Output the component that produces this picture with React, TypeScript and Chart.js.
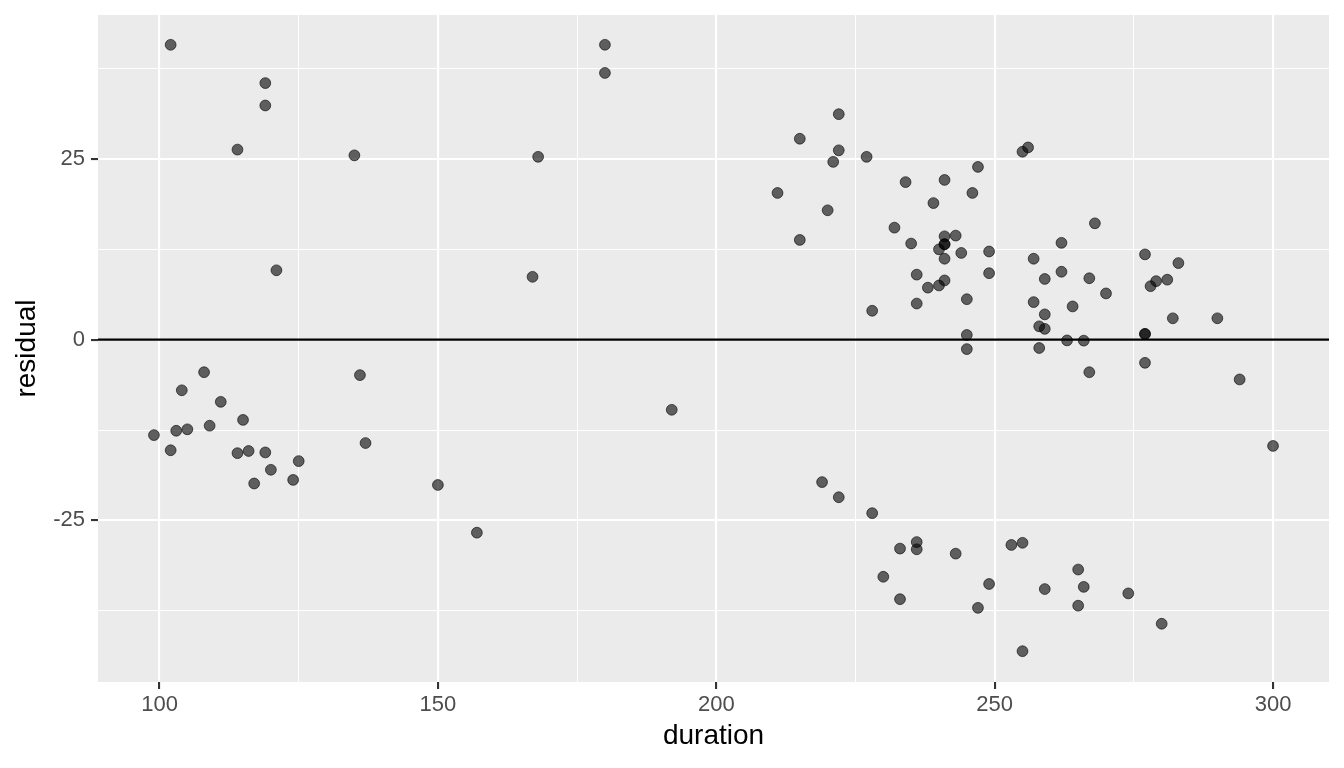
import React, { useEffect, useRef } from "react";
import { Chart, registerables } from "chart.js";

Chart.register(...registerables);

const durations = [
  99, 102, 102, 103, 104, 105, 108, 109, 111, 114, 114, 115, 116, 117, 119, 119, 119, 120, 121, 124, 125,
  135, 136, 137, 150, 157, 167, 168, 180, 180, 192,
  211, 215, 215, 219, 220, 221, 222, 222, 222, 227, 228, 228, 230, 232, 233, 233, 234, 235, 236, 236, 236, 236,
  238, 239, 240, 240, 241, 241, 241, 241, 241, 241, 243, 243, 244, 245, 245, 245, 246, 247, 247, 249, 249, 249,
  253, 255, 255, 255, 256, 257, 257, 258, 258, 259, 259, 259, 259, 262, 262, 263, 264, 265, 265, 266, 266, 267,
  267, 268, 270, 274, 277, 277, 277, 277, 278, 279, 280, 281, 282, 283, 290, 294, 300,
];

const residuals = [
  -13.2, -15.3, 40.8, -12.6, -7.0, -12.4, -4.5, -11.9, -8.6, -15.7, 26.3, -11.1, -15.4, -19.9, 35.5, 32.4, -15.6,
  -18.0, 9.6, -19.4, -16.8,
  25.5, -4.9, -14.3, -20.1, -26.7, 8.7, 25.3, 40.8, 36.9, -9.7,
  20.3, 27.8, 13.8, -19.7, 17.9, 24.6, 31.2, 26.2, -21.8, 25.3, 4.0, -24.0, -32.8, 15.5, -28.9, -35.9, 21.8, 13.3,
  9.0, 5.0, -28.0, -29.0,
  7.2, 18.9, 12.5, 7.5, 22.1, 14.3, 13.2, 13.2, 11.2, 8.2, 14.4, -29.6, 12.0, 5.6, 0.65, -1.3, 20.3, 23.9, -37.1,
  12.2, 9.2, -33.8,
  -28.4, 26.0, -28.1, -43.1, 26.6, 11.2, 5.2, 1.85, -1.15, 8.4, 3.5, 1.5, -34.5, 13.4, 9.4, -0.1, 4.6, -31.8, -36.8,
  -0.13, -34.2, 8.5,
  -4.5, 16.1, 6.4, -35.1, 11.8, 0.79, 0.79, -3.2, 7.4, 8.1, -39.3, 8.3, 2.96, 10.6, 2.96, -5.5, -14.7,
];

const xTicks = [100, 125, 150, 175, 200, 225, 250, 275, 300];
const xLabelled = [100, 150, 200, 250, 300];
const yTicks = [-37.5, -25, -12.5, 0, 12.5, 25, 37.5];
const yLabelled = [-25, 0, 25];
const hlineY = 0;

const X_MIN = 88.95;
const X_MAX = 310.05;
const Y_MIN = -47.36;
const Y_MAX = 44.92;

const FONT = "'Liberation Sans', Arial, Helvetica, sans-serif";

export default function App() {
  const ref = useRef<HTMLCanvasElement>(null);

  useEffect(() => {
    document.body.style.margin = "0";
    const canvas = ref.current;
    if (!canvas) return;

    const panelBg = {
      id: "panelBg",
      beforeDraw(chart: any) {
        const { ctx, chartArea: a } = chart;
        ctx.save();
        ctx.fillStyle = "#EBEBEB";
        ctx.fillRect(a.left, a.top, a.right - a.left, a.bottom - a.top);
        ctx.restore();
      },
    };

    const isXMajor = (v: number) => xLabelled.includes(v);
    const isYMajor = (v: number) => yLabelled.includes(v);

    const chart = new Chart(canvas, {
      type: "scatter",
      data: {
        datasets: [
          {
            type: "line",
            data: [
              { x: X_MIN, y: hlineY },
              { x: X_MAX, y: hlineY },
            ],
            borderColor: "#000000",
            borderWidth: 2.3,
            pointRadius: 0,
            order: 0,
          } as any,
          {
            data: durations.map((d, i) => ({ x: d, y: residuals[i] })),
            backgroundColor: "rgba(0,0,0,0.6)",
            borderColor: "rgba(0,0,0,0.6)",
            borderWidth: 1,
            pointRadius: 5.4,
            pointHoverRadius: 5.4,
            order: 1,
          },
        ],
      },
      options: {
        animation: false,
        responsive: false,
        layout: { padding: { left: 0, top: 15, right: 15, bottom: 0 } },
        plugins: {
          legend: { display: false },
          tooltip: { enabled: false },
        },
        scales: {
          x: {
            type: "linear",
            min: X_MIN,
            max: X_MAX,
            afterBuildTicks: (s: any) => {
              s.ticks = xTicks.map((v) => ({ value: v }));
            },
            afterFit: (s: any) => {
              s.height = 86;
              s.paddingLeft = 0;
              s.paddingRight = 0;
              s.paddingTop = 0;
              s.paddingBottom = 0;
            },
            border: { display: false },
            grid: {
              color: "#FFFFFF",
              lineWidth: (c: any) => (isXMajor(c.tick?.value) ? 2.1 : 1.05),
              tickColor: (c: any) => (isXMajor(c.tick?.value) ? "#333333" : "rgba(0,0,0,0)"),
              tickLength: 7,
              tickWidth: 2.1,
            },
            ticks: {
              autoSkip: false,
              maxRotation: 0,
              padding: 2.5,
              color: "#4D4D4D",
              font: { family: FONT, size: 22 },
              callback: (v: any) => (isXMajor(Number(v)) ? String(v) : ""),
            },
            title: {
              display: true,
              text: "duration",
              color: "#000000",
              font: { family: FONT, size: 28 },
              padding: { top: 0, bottom: 15.3 },
            },
          },
          y: {
            type: "linear",
            min: Y_MIN,
            max: Y_MAX,
            afterBuildTicks: (s: any) => {
              s.ticks = yTicks.map((v) => ({ value: v }));
            },
            afterFit: (s: any) => {
              s.width = 98;
              s.paddingLeft = 0;
              s.paddingRight = 0;
              s.paddingTop = 0;
              s.paddingBottom = 0;
            },
            border: { display: false },
            grid: {
              color: "#FFFFFF",
              lineWidth: (c: any) => (isYMajor(c.tick?.value) ? 2.1 : 1.05),
              tickColor: (c: any) => (isYMajor(c.tick?.value) ? "#333333" : "rgba(0,0,0,0)"),
              tickLength: 7,
              tickWidth: 2.1,
            },
            ticks: {
              autoSkip: false,
              padding: 6,
              color: "#4D4D4D",
              font: { family: FONT, size: 22 },
              callback: (v: any) => (isYMajor(Number(v)) ? String(v) : ""),
            },
            title: {
              display: true,
              text: "residual",
              color: "#000000",
              font: { family: FONT, size: 28 },
              padding: { top: 10.7, bottom: 0 },
            },
          },
        },
      },
      plugins: [panelBg],
    });

    return () => {
      chart.destroy();
    };
  }, []);

  return (
    <div style={{ width: 1344, height: 768, background: "#FFFFFF" }}>
      <canvas ref={ref} width={1344} height={768} style={{ display: "block" }} />
    </div>
  );
}
